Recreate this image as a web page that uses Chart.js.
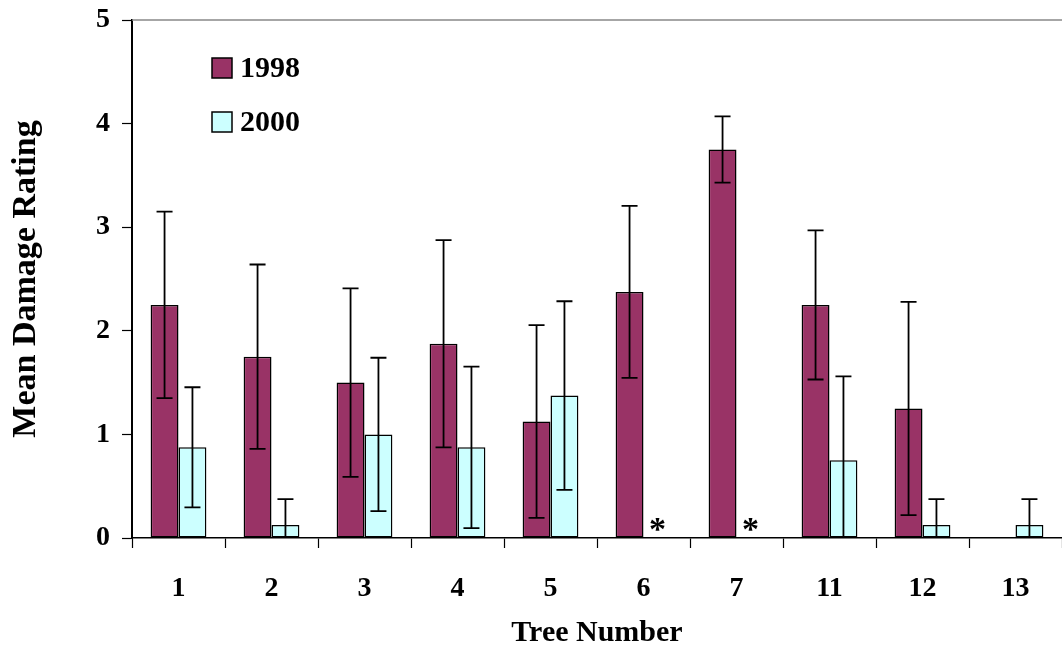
<!DOCTYPE html>
<html>
<head>
<meta charset="utf-8">
<script src="https://cdn.jsdelivr.net/npm/chart.js@4/dist/chart.umd.min.js"></script>
<style>
	html, body { margin: 0; padding: 0; background: #fff; }
	#wrap { width: 1062px; height: 645px; }
</style>
</head>
<body>
<div id="wrap"><canvas id="damageChart" width="1062" height="645"></canvas></div>
<script>
var trees = ['1', '2', '3', '4', '5', '6', '7', '11', '12', '13'];
var mean1998 = [2.25, 1.75, 1.5, 1.875, 1.125, 2.375, 3.75, 2.25, 1.25, null];
var err1998 = [0.9, 0.89, 0.91, 1.0, 0.93, 0.83, 0.32, 0.72, 1.03, null];
var mean2000 = [0.875, 0.125, 1.0, 0.875, 1.375, null, null, 0.75, 0.125, 0.125];
var err2000 = [0.58, 0.25, 0.74, 0.78, 0.91, null, null, 0.81, 0.25, 0.25];
var starred = ['6', '7'];
var yTicks = [0, 1, 2, 3, 4, 5];

var serif = '"Liberation Serif", "Times New Roman", serif';

// error bars, clipped at zero like the original
var errorBars = {
	id: 'errorBars',
	afterDatasetsDraw: function(chart) {
		var ctx = chart.ctx;
		var y = chart.scales.y;
		ctx.save();
		ctx.strokeStyle = '#000';
		ctx.lineWidth = 1.8;
		chart.data.datasets.forEach(function(ds, di) {
			var meta = chart.getDatasetMeta(di);
			ds.errors.forEach(function(e, i) {
				if(e === null || ds.data[i] === null) { return; }
				var bar = meta.data[i];
				var hi = y.getPixelForValue(ds.data[i] + e);
				var low = ds.data[i] - e;
				var lo = y.getPixelForValue(Math.max(low, 0));
				ctx.beginPath();
				ctx.moveTo(bar.x, hi);
				ctx.lineTo(bar.x, lo);
				ctx.moveTo(bar.x - 8, hi);
				ctx.lineTo(bar.x + 8, hi);
				if(low > 0) {
					ctx.moveTo(bar.x - 8, lo);
					ctx.lineTo(bar.x + 8, lo);
				}
				ctx.stroke();
			});
		});
		ctx.restore();
	}
};

// legend inside the plot, stars for missing 2000 values, grey top border
var extras = {
	id: 'extras',
	afterDraw: function(chart) {
		var ctx = chart.ctx;
		var area = chart.chartArea;
		ctx.save();
		ctx.strokeStyle = '#888';
		ctx.lineWidth = 1.5;
		ctx.beginPath();
		ctx.moveTo(area.left, area.top);
		ctx.lineTo(area.right, area.top);
		ctx.stroke();

		ctx.font = 'bold 30px ' + serif;
		ctx.textBaseline = 'middle';
		ctx.textAlign = 'left';
		chart.data.datasets.forEach(function(ds, i) {
			var top = 58 + i * 54;
			ctx.fillStyle = ds.backgroundColor;
			ctx.fillRect(212, top, 20, 20);
			ctx.strokeStyle = '#000';
			ctx.lineWidth = 1.5;
			ctx.strokeRect(212, top, 20, 20);
			ctx.fillStyle = '#000';
			ctx.fillText(ds.label, 240, top + 11);
		});

		var meta = chart.getDatasetMeta(1);
		var zero = chart.scales.y.getPixelForValue(0);
		ctx.font = 'bold 34px ' + serif;
		ctx.textAlign = 'center';
		ctx.textBaseline = 'alphabetic';
		starred.forEach(function(t) {
			var i = trees.indexOf(t);
			var x = chart.scales.x.getPixelForValue(i) + meta.data[0].width / 2;
			ctx.fillText('*', x, zero + 2);
		});
		ctx.restore();
	}
};

var ctx = document.getElementById('damageChart').getContext('2d');
var chart = new Chart(ctx, {
	type: 'bar',
	data: {
		labels: trees,
		datasets: [{
			label: '1998',
			data: mean1998,
			errors: err1998,
			backgroundColor: '#993366',
			borderColor: '#000',
			borderWidth: 1.5,
			borderSkipped: false
		}, {
			label: '2000',
			data: mean2000,
			errors: err2000,
			backgroundColor: '#CCFFFF',
			borderColor: '#000',
			borderWidth: 1.5,
			borderSkipped: false
		}]
	},
	options: {
		responsive: false,
		animation: false,
		layout: { padding: { top: 20, right: 0, left: 0, bottom: 0 }, autoPadding: false },
		categoryPercentage: 0.6,
		barPercentage: 1.0,
		plugins: {
			legend: { display: false },
			tooltip: { enabled: false }
		},
		scales: {
			x: {
				grid: { display: true, drawOnChartArea: false, color: '#000', tickLength: 10, tickWidth: 1.2, offset: true },
				border: { color: '#000', width: 1.5 },
				ticks: { color: '#000', font: { family: serif, size: 28, weight: 'bold' }, padding: 24, maxRotation: 0 },
				title: { display: true, text: 'Tree Number', color: '#000', font: { family: serif, size: 30, weight: 'bold', lineHeight: 0.8 }, padding: { top: 0, bottom: 0 } },
				afterFit: function(scale) {
					scale.height = 107;
					scale.paddingLeft = 0;
					scale.paddingRight = 0;
				}
			},
			y: {
				min: 0,
				max: 5,
				afterBuildTicks: function(scale) {
					scale.ticks = yTicks.map(function(v) { return { value: v }; });
				},
				grid: { display: true, drawOnChartArea: false, color: '#000', tickLength: 10, tickWidth: 1.2 },
				border: { color: '#000', width: 2 },
				ticks: { color: '#000', font: { family: serif, size: 28, weight: 'bold' }, padding: 12 },
				title: { display: true, text: 'Mean Damage Rating', color: '#000', font: { family: serif, size: 34, weight: 'bold' }, padding: { top: 6, bottom: 4 } },
				afterFit: function(scale) {
					scale.width = 132;
					scale.paddingTop = 0;
					scale.paddingBottom = 0;
				}
			}
		}
	},
	plugins: [errorBars, extras]
});
</script>
</body>
</html>
